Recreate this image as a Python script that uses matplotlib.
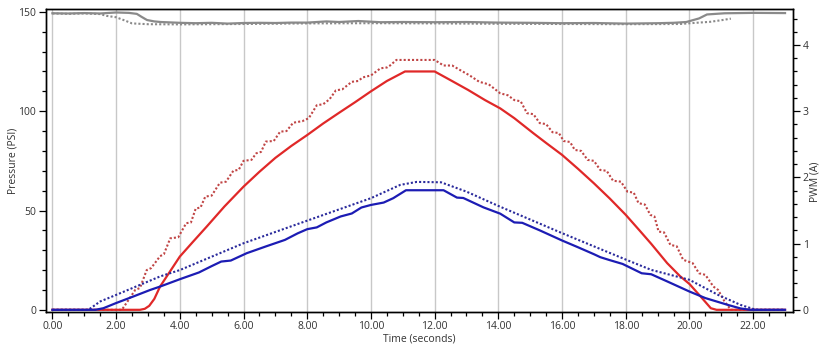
import matplotlib
matplotlib.use("Agg")
import matplotlib.pyplot as plt
from matplotlib.ticker import MultipleLocator, FormatStrFormatter

# ---------------- data ----------------
# Supply pressure (PSI), solid gray
t_supply = [0, 0.5, 1.0, 1.5, 2.0, 2.4, 2.65, 2.8, 2.97, 3.2, 3.4, 4.0, 4.5, 5.0, 5.5, 6.0, 6.5,
            7.0, 7.5, 8.0, 8.6, 9.0, 9.6, 10.3, 11.0, 12.0, 13.0, 14.0, 15.0, 16.0, 17.0, 18.0,
            19.0, 19.5, 19.9, 20.3, 20.55, 21.1, 22.0, 23.0]
p_supply = [149.3, 149.2, 149.4, 149.2, 149.7, 149.5, 149.0, 147.5, 145.9, 145.2, 144.9, 144.5,
            144.3, 144.5, 144.1, 144.4, 144.5, 144.4, 144.6, 144.6, 145.2, 144.9, 145.4, 144.8,
            144.9, 144.8, 144.9, 144.6, 144.5, 144.3, 144.4, 144.1, 144.3, 144.5, 144.9, 146.7,
            148.7, 149.3, 149.5, 149.4]

# Supply pressure reference (PSI), dotted gray
t_supply_ref = [0, 0.5, 1.0, 1.5, 1.7, 2.0, 2.3, 2.5, 3.0, 4.0, 6.0, 8.0, 10.0, 12.0, 14.0, 16.0,
                18.0, 19.7, 20.2, 20.65, 21.0, 21.3]
p_supply_ref = [149.2, 149.0, 149.2, 148.9, 148.0, 147.3, 145.5, 144.2, 143.8, 143.7, 143.9,
                144.2, 144.3, 144.2, 144.0, 143.9, 143.8, 143.9, 144.5, 145.0, 145.8, 146.6]

# Output pressure (PSI), solid red
t_press = [0, 2.75, 2.9, 3.04, 3.2, 3.38, 3.7, 4.0, 4.4, 4.85, 5.4, 6.0, 6.5, 7.0, 7.5, 8.0, 8.5,
           9.0, 9.5, 10.0, 10.5, 11.07, 12.0, 12.5, 13.05, 13.58, 14.06, 14.5, 15.1, 15.5, 16.0,
           16.5, 17.0, 17.5, 18.0, 18.43, 18.8, 19.3, 19.7, 20.0, 20.35, 20.67, 20.85, 23.0]
p_press = [0, 0, 0.5, 2, 5.5, 11.7, 19.5, 26.8, 34.0, 42.0, 52.0, 62, 69.5, 76.5, 82.5, 88, 93.8,
           99.2, 104.5, 110.0, 115.2, 120, 120, 115.6, 110.7, 105.6, 101.4, 96.5, 88.9, 84, 78,
           71, 63.7, 56, 47.8, 40, 33.2, 23.5, 17, 13, 6.7, 0.8, 0, 0]

# Pressure setpoint (PSI), dotted red
t_press_sp = [0, 2.18, 2.35, 2.6, 2.75, 2.96, 3.1, 3.38, 3.5, 3.7, 3.95, 4.2, 4.35, 4.5, 4.65, 4.8,
              5.0, 5.26, 5.45, 5.68, 5.85, 6.0, 6.25, 6.4, 6.55, 6.7, 6.95, 7.15, 7.35, 7.56,
              7.85, 8.05, 8.3, 8.5, 8.7, 8.9, 9.1, 9.4, 9.6, 9.74, 10.0, 10.3, 10.5, 10.6, 10.8,
              12.0, 12.28, 12.55, 12.8, 13.1, 13.4, 13.7, 14.06, 14.3, 14.5, 14.7, 14.9, 15.1,
              15.3, 15.5, 15.7, 15.9, 16.05, 16.25, 16.4, 16.6, 16.8, 17.0, 17.2, 17.4, 17.6,
              17.85, 18.05, 18.25, 18.4, 18.6, 18.77, 18.9, 19.03, 19.2, 19.4, 19.6, 19.8, 20.1,
              20.3, 20.5, 20.75, 20.9, 21.1, 21.3, 23.0]
p_press_sp = [0, 0, 4, 10, 11, 20, 21, 27, 28, 36, 36.5, 43.6, 44, 51, 51.5, 57, 57.5, 64, 64.5,
              70, 70.5, 75, 75.5, 78.8, 79.5, 84.7, 85, 89.7, 90, 94.2, 95, 96.5, 103, 103.5,
              106, 110.5, 111, 114.8, 115.2, 117, 118, 121.6, 122, 123, 125.8, 125.8, 123, 123,
              120.7, 118, 114.8, 113.5, 109, 108, 105.6, 105, 99, 98.5, 94, 93.5, 89.4, 89, 85,
              84.5, 80.5, 80, 75.5, 75, 70.4, 70, 65, 64.5, 59.5, 59, 53.7, 53, 47.8, 47, 39.4,
              39, 32.7, 32, 25.2, 23.5, 18.4, 17.6, 11.7, 10, 4.2, 0, 0]

# PWM current (A), solid blue
t_pwm = [0, 1.35, 1.6, 2.0, 2.54, 3.07, 3.38, 4.0, 4.6, 5.0, 5.3, 5.6, 6.1, 6.7, 7.3, 7.7, 8.0,
         8.3, 8.6, 9.05, 9.4, 9.7, 10.0, 10.4, 10.7, 11.1, 12.28, 12.7, 12.9, 13.53, 14.06, 14.5,
         14.75, 15.3, 16.0, 16.5, 17.0, 17.2, 17.5, 17.9, 18.5, 18.8, 19.3, 20.0, 20.5, 21.2,
         21.6, 21.9, 23.0]
a_pwm = [0, 0, 0.024, 0.102, 0.201, 0.300, 0.351, 0.462, 0.564, 0.660, 0.729, 0.744, 0.855,
         0.957, 1.056, 1.155, 1.218, 1.245, 1.320, 1.410, 1.455, 1.545, 1.584, 1.620, 1.686,
         1.806, 1.806, 1.695, 1.689, 1.548, 1.452, 1.320, 1.314, 1.200, 1.047, 0.945, 0.840,
         0.795, 0.750, 0.693, 0.552, 0.537, 0.429, 0.276, 0.177, 0.075, 0.021, 0, 0]

# PWM command (A), dotted blue
t_pwm_cmd = [0, 1.13, 1.5, 2.0, 3.38, 4.0, 6.0, 8.0, 10.0, 10.92, 11.44, 12.2, 13.0, 14.0, 16.0,
             18.0, 18.8, 20.0, 20.9, 21.6, 22.05, 22.2, 23.0]
a_pwm_cmd = [0, 0, 0.126, 0.225, 0.504, 0.600, 1.005, 1.347, 1.686, 1.887, 1.932, 1.926, 1.785,
             1.569, 1.158, 0.759, 0.603, 0.453, 0.225, 0.075, 0.006, 0, 0]

x_ticks = [0, 2, 4, 6, 8, 10, 12, 14, 16, 18, 20, 22]

# ---------------- figure ----------------
plt.rcParams['font.family'] = ['Open Sans', 'DejaVu Sans']
W, H = 824, 354
fig = plt.figure(figsize=(W / 100, H / 100), dpi=100)
left, right, top, bottom = 45.7, 793.0, 9.3, 311.5
ax = fig.add_axes([left / W, 1 - bottom / H, (right - left) / W, (bottom - top) / H])
ax2 = ax.twinx()

txt = '#333333'
ax.set_xlim(-0.21, 23.25)
ax.set_ylim(-0.85, 151.3)
ax2.set_ylim(-0.85 / 33.333, 151.3 / 33.333)

ax.set_xticks(x_ticks)
ax.xaxis.set_major_formatter(FormatStrFormatter('%.2f'))
ax.xaxis.set_minor_locator(MultipleLocator(0.5))
ax.yaxis.set_major_locator(MultipleLocator(50))
ax.yaxis.set_minor_locator(MultipleLocator(10))
ax2.yaxis.set_major_locator(MultipleLocator(1))
ax2.yaxis.set_minor_locator(MultipleLocator(0.2))

ax.grid(axis='x', which='major', color='#c8c8c8', linewidth=1.0)
ax.set_axisbelow(True)

for a in (ax, ax2):
    a.tick_params(which='major', direction='out', length=5, width=0.9, colors='black',
                  labelcolor=txt, labelsize=7.5, pad=2)
    a.tick_params(which='minor', direction='out', length=3, width=0.9, colors='black')
    for s in a.spines.values():
        s.set_color('black')
        s.set_linewidth(1.0)

gray = '#8a8a8a'
ax.plot(t_supply, p_supply, color=gray, lw=1.6, zorder=3)
ax.plot(t_supply_ref, p_supply_ref, color=gray, lw=1.5, ls=(0, (1, 1)), zorder=3)
ax.plot(t_press_sp, p_press_sp, color='#c04545', lw=1.5, ls=(0, (1, 1)), zorder=3)
ax.plot(t_press, p_press, color='#e02828', lw=1.6, zorder=4)
ax2.plot(t_pwm_cmd, a_pwm_cmd, color='#2a2a9c', lw=1.5, ls=(0, (1, 1)), zorder=3)
ax2.plot(t_pwm, a_pwm, color='#1c1cb4', lw=1.6, zorder=4)

ax.set_xlabel('Time (seconds)', fontsize=7.5, color=txt, labelpad=1)
ax.set_ylabel('Pressure (PSI)', fontsize=7.5, color=txt, labelpad=0)
ax2.set_ylabel('PWM (A)', fontsize=7.5, color=txt, labelpad=4)
ax2.yaxis.set_label_coords(1.0216, 0.43)

fig.savefig('out.png', dpi=100)
